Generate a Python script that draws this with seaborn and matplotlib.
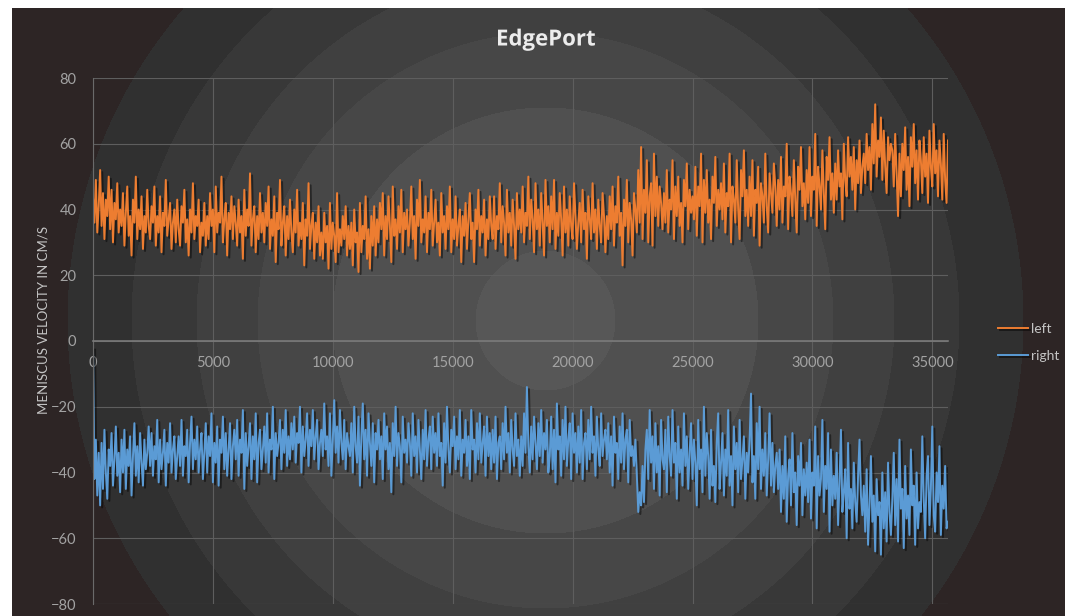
import numpy as np
import pandas as pd
import matplotlib
matplotlib.use("Agg")
import matplotlib.pyplot as plt
import matplotlib.patheffects as pe
import seaborn as sns

# values, one row ~ 1190 samples
left_vals = [
    44, 36, 49, 33, 41, 52, 35, 45, 31, 43, 38, 50, 34, 46, 30, 42, 37, 48, 33, 40,
    35, 45, 29, 39, 47, 32, 38, 26, 43, 36, 50, 31, 40, 34, 44, 28, 38, 33, 46, 35,
    31, 41, 36, 47, 29, 38, 33, 44, 27, 39, 35, 49, 32, 37, 42, 28, 36, 40, 30, 43,
    34, 29, 41, 36, 46, 30, 37, 26, 40, 33, 48, 31, 38, 35, 43, 27, 36, 32, 42, 29,
    38, 31, 45, 35, 40, 27, 47, 33, 39, 36, 50, 30, 37, 42, 26, 39, 34, 44, 31, 41,
    36, 29, 43, 33, 38, 25, 46, 32, 40, 35, 51, 29, 37, 41, 27, 38, 31, 45, 33, 39,
    30, 42, 35, 47, 28, 37, 32, 44, 24, 39, 34, 49, 29, 36, 41, 26, 38, 31, 43, 33,
    27, 40, 33, 46, 29, 36, 31, 42, 23, 37, 32, 48, 28, 35, 39, 25, 36, 30, 41, 26,
    33, 25, 39, 30, 35, 22, 42, 28, 36, 32, 24, 45, 27, 34, 29, 38, 31, 41, 26, 35,
    28, 36, 23, 40, 30, 33, 21, 42, 27, 35, 31, 44, 25, 34, 22, 38, 29, 41, 26, 37,
    30, 42, 34, 45, 26, 38, 31, 44, 35, 24, 47, 32, 37, 28, 41, 33, 46, 27, 39, 34,
    40, 29, 36, 47, 31, 38, 25, 43, 35, 49, 30, 37, 33, 44, 27, 39, 34, 46, 29, 36,
    43, 30, 36, 26, 45, 33, 38, 28, 41, 34, 47, 27, 37, 31, 44, 29, 35, 40, 24, 38,
    32, 42, 28, 37, 45, 31, 36, 24, 40, 34, 46, 29, 38, 33, 43, 26, 37, 31, 44, 35,
    31, 44, 28, 38, 34, 48, 30, 41, 36, 26, 46, 33, 39, 29, 43, 35, 25, 45, 34, 40,
    33, 47, 30, 39, 35, 50, 31, 43, 37, 27, 48, 34, 40, 29, 45, 36, 26, 49, 35, 41,
    30, 44, 34, 49, 28, 39, 32, 45, 37, 26, 47, 33, 40, 29, 44, 35, 31, 48, 38, 28,
    36, 42, 30, 46, 34, 39, 25, 44, 37, 31, 48, 33, 40, 28, 43, 35, 30, 45, 38, 27,
    38, 31, 44, 34, 47, 29, 41, 36, 50, 32, 39, 23, 43, 35, 49, 30, 42, 37, 26, 45,
    40, 33, 52, 36, 59, 31, 46, 39, 55, 30, 44, 48, 29, 57, 38, 50, 35, 47, 42, 34,
    45, 36, 52, 33, 43, 40, 55, 31, 47, 38, 50, 35, 42, 30, 49, 41, 54, 34, 46, 39,
    44, 37, 53, 32, 47, 41, 57, 30, 49, 39, 52, 36, 43, 31, 50, 42, 56, 35, 46, 40,
    48, 37, 54, 33, 45, 41, 57, 30, 47, 43, 36, 55, 40, 31, 52, 44, 58, 38, 46, 35,
    50, 38, 55, 32, 46, 42, 53, 29, 48, 44, 36, 57, 41, 33, 51, 45, 39, 54, 47, 35,
    49, 40, 56, 36, 47, 44, 60, 34, 50, 45, 38, 55, 43, 33, 53, 46, 59, 41, 48, 37,
    52, 42, 59, 38, 50, 46, 63, 35, 53, 47, 40, 58, 45, 34, 56, 49, 62, 43, 51, 39,
    54, 43, 58, 47, 51, 37, 60, 49, 44, 62, 50, 56, 46, 59, 40, 55, 48, 61, 45, 53,
    57, 48, 63, 52, 59, 46, 66, 54, 72, 50, 61, 56, 68, 49, 64, 53, 45, 62, 55, 60,
    58, 47, 63, 51, 38, 57, 44, 60, 52, 65, 46, 56, 41, 62, 53, 66, 48, 58, 43, 61,
    55, 45, 62, 50, 57, 42, 64, 53, 47, 66, 51, 58, 44, 61, 54, 43, 63, 49, 42, 61,
]
right_vals = [
    -2, -42, -30, -47, -34, -50, -31, -45, -27, -40, -48, -33, -38, -28, -44, -36, -26, -41, -34, -46,
    -30, -40, -27, -45, -33, -38, -29, -47, -35, -25, -41, -32, -43, -28, -37, -44, -30, -39, -34, -26,
    -38, -28, -41, -32, -36, -24, -43, -30, -39, -34, -27, -44, -31, -37, -25, -40, -33, -29, -42, -35,
    -29, -38, -24, -41, -32, -35, -27, -43, -31, -23, -39, -30, -36, -26, -40, -33, -28, -42, -34, -25,
    -40, -29, -35, -22, -43, -31, -37, -26, -44, -30, -34, -23, -39, -28, -41, -33, -25, -42, -32, -27,
    -36, -24, -41, -30, -34, -21, -45, -28, -38, -32, -25, -42, -29, -36, -22, -43, -31, -27, -39, -33,
    -26, -37, -22, -40, -30, -33, -20, -42, -28, -35, -31, -24, -39, -27, -34, -21, -38, -29, -36, -25,
    -33, -23, -37, -28, -31, -20, -40, -26, -35, -30, -22, -38, -27, -32, -21, -36, -29, -24, -39, -31,
    -27, -35, -19, -33, -29, -38, -22, -41, -30, -18, -34, -26, -37, -21, -31, -36, -24, -39, -28, -32,
    -35, -25, -40, -20, -32, -37, -23, -44, -29, -19, -36, -27, -41, -22, -31, -38, -25, -43, -28, -33,
    -24, -36, -29, -42, -22, -33, -26, -39, -31, -46, -25, -35, -20, -38, -28, -32, -43, -23, -34, -30,
    -37, -25, -31, -41, -22, -35, -29, -40, -24, -33, -42, -27, -36, -21, -38, -30, -26, -39, -23, -34,
    -28, -38, -22, -35, -31, -44, -25, -37, -20, -33, -40, -27, -32, -23, -39, -29, -36, -21, -41, -30,
    -34, -24, -38, -29, -42, -21, -33, -30, -40, -25, -36, -22, -37, -31, -26, -41, -23, -35, -28, -39,
    -27, -37, -23, -42, -31, -29, -39, -25, -36, -20, -34, -28, -40, -24, -33, -38, -22, -35, -30, -41,
    -29, -38, -22, -34, -14, -32, -40, -26, -36, -23, -31, -39, -25, -35, -21, -37, -28, -33, -24, -40,
    -35, -23, -39, -27, -43, -19, -33, -29, -41, -24, -36, -20, -38, -30, -25, -42, -22, -34, -28, -40,
    -26, -37, -21, -42, -31, -28, -39, -24, -36, -20, -34, -29, -41, -23, -33, -38, -22, -35, -30, -27,
    -36, -25, -40, -29, -44, -23, -34, -31, -42, -26, -37, -22, -39, -30, -27, -43, -24, -35, -32, -38,
    -30, -41, -52, -46, -50, -38, -49, -33, -27, -42, -21, -37, -29, -45, -25, -40, -32, -47, -24, -36,
    -39, -27, -46, -23, -35, -41, -21, -37, -31, -48, -26, -40, -33, -44, -22, -38, -29, -45, -34, -25,
    -42, -30, -37, -50, -24, -39, -33, -46, -20, -41, -28, -35, -48, -27, -44, -38, -49, -31, -22, -45,
    -37, -28, -47, -33, -41, -21, -44, -35, -50, -26, -39, -31, -46, -24, -42, -36, -29, -48, -34, -40,
    -30, -16, -43, -35, -48, -25, -39, -20, -45, -33, -41, -28, -47, -36, -22, -44, -31, -46, -38, -34,
    -45, -33, -52, -38, -48, -29, -55, -41, -36, -50, -28, -46, -40, -56, -35, -44, -31, -53, -39, -47,
    -37, -49, -30, -54, -40, -44, -26, -57, -35, -47, -42, -24, -52, -38, -45, -28, -58, -33, -50, -41,
    -48, -34, -56, -43, -27, -52, -46, -39, -60, -31, -51, -45, -57, -37, -49, -55, -41, -30, -47, -53,
    -44, -58, -39, -62, -50, -35, -55, -47, -64, -42, -53, -49, -65, -40, -57, -46, -61, -37, -52, -59,
    -48, -34, -56, -42, -61, -30, -51, -45, -63, -38, -54, -47, -59, -33, -50, -44, -62, -40, -57, -49,
    -52, -29, -48, -60, -41, -35, -56, -45, -26, -53, -58, -40, -49, -32, -59, -44, -51, -38, -57, -55,
]
x_end = 35650
x_ticks = [0, 5000, 10000, 15000, 20000, 25000, 30000, 35000]
y_ticks = [-80, -60, -40, -20, 0, 20, 40, 60, 80]

n = len(left_vals)
sample = np.linspace(0, x_end, n)
df = pd.concat([
    pd.DataFrame({"x": sample, "v": left_vals, "s": "left"}),
    pd.DataFrame({"x": sample, "v": right_vals, "s": "right"}),
])

W, H = 1065, 616
fig = plt.figure(figsize=(W / 100, H / 100), dpi=100, facecolor="white")

# banded radial background
bg = fig.add_axes([12 / W, 0, 1 - 12 / W, 1 - 8 / H])
bw, bh = W - 12, H - 8
yy, xx = np.mgrid[0:bh, 0:bw]
r = np.hypot(xx - (545 - 12), yy - (320 - 8))
radii = [70, 213, 288, 349, 414, 478]
shades = ["#575757", "#505050", "#474747", "#404040", "#383838", "#303030", "#2d2525"]
band = np.digitize(r, radii)
rgb = np.array([matplotlib.colors.to_rgb(c) for c in shades])
bg.imshow(rgb[band], aspect="auto", interpolation="bilinear")
bg.set_axis_off()

ax = fig.add_axes([93 / W, 12 / H, 855 / W, 526 / H])
ax.set_facecolor("none")
sns.lineplot(data=df, x="x", y="v", hue="s", palette={"left": "#ED7D31", "right": "#5B9BD5"},
             estimator=None, linewidth=1.4, ax=ax)
for ln in ax.get_lines():
    ln.set_path_effects([pe.SimpleLineShadow(offset=(1.5, -1.5), shadow_color="black", alpha=0.45),
                         pe.Normal()])

ax.set_xlim(0, x_end)
ax.set_ylim(-80, 80)
ax.set_xticks(x_ticks)
ax.set_yticks(y_ticks)
ax.grid(True, color="#5e5e5e", linewidth=0.8)
ax.set_axisbelow(True)
for s in ["top", "right"]:
    ax.spines[s].set_visible(False)
ax.spines["bottom"].set_position(("data", 0))
ax.spines["bottom"].set_color("#7a7a7a")
ax.spines["bottom"].set_linewidth(1.2)
ax.spines["left"].set_color("#6a6a6a")
ax.tick_params(length=0, labelcolor="#a3a3a3", labelsize=10.5)
ax.tick_params(axis="x", pad=11)
ax.tick_params(axis="y", pad=12)
for t in ax.get_xticklabels() + ax.get_yticklabels():
    t.set_fontfamily("Lato")
ax.set_xlabel("")
ax.set_ylabel("")

fig.text(44 / W, 1 - 320 / H, "MENISCUS VELOCITY IN CM/S", rotation=90, ha="center", va="center",
         color="#c4c4c4", fontsize=9.5, fontfamily="Lato")
fig.text(546 / W, 1 - 40 / H, "EdgePort", ha="center", va="center", color="#ececec",
         fontsize=16, fontweight="bold", fontfamily="Open Sans",
         path_effects=[pe.SimplePatchShadow(offset=(1.2, -1.2), alpha=0.6), pe.Normal()])

h, l = ax.get_legend_handles_labels()
leg = ax.legend(h, l, loc="upper left", bbox_to_anchor=(988 / W, 1 - 313 / H),
                bbox_transform=fig.transFigure, frameon=False, handlelength=2.2,
                handletextpad=0.2, labelspacing=1.1, borderpad=0.2,
                prop={"family": "Lato", "size": 10})
for t in leg.get_texts():
    t.set_color("#c4c4c4")

fig.savefig("out.png", dpi=100, facecolor="white")
